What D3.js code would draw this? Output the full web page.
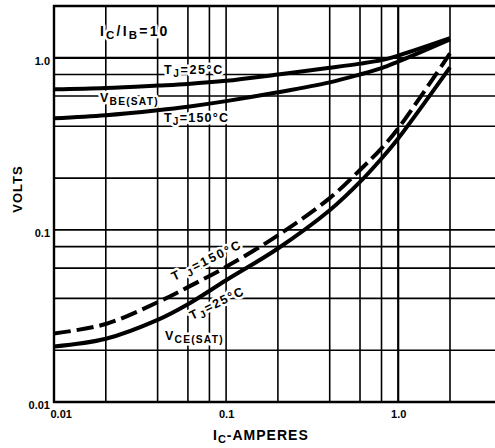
<!DOCTYPE html>
<html>
<head>
<meta charset="utf-8">
<script src="https://cdn.jsdelivr.net/npm/d3@7"></script>
<style>
  body { margin: 0; background: #fff; }
  svg { display: block; font-family: "Liberation Sans", Arial, sans-serif; }
</style>
</head>
<body>
<div id="viz_area"></div>
<script>
// collector current, amperes
var currentA = [0.01, 0.02, 0.04, 0.06, 0.1, 0.2, 0.4, 0.6, 0.8, 1.0, 2.0];

// saturation voltages, volts
var vbe25  = [0.656, 0.668, 0.69, 0.705, 0.735, 0.80, 0.875, 0.925, 0.97, 1.03, 1.30];
var vbe150 = [0.445, 0.464, 0.496, 0.52, 0.56, 0.63, 0.72, 0.80, 0.87, 0.95, 1.28];
var vce25  = [0.021, 0.0233, 0.030, 0.037, 0.051, 0.078, 0.13, 0.19, 0.26, 0.34, 0.88];
var vce150 = [0.025, 0.0284, 0.038, 0.0465, 0.061, 0.093, 0.153, 0.223, 0.298, 0.389, 1.06];

// grid + tick labels
var xGrid = [0.02, 0.04, 0.06, 0.08, 0.1, 0.2, 0.4, 0.6, 0.8, 1.0, 2.0];
var yGrid = [0.02, 0.04, 0.06, 0.08, 0.1, 0.2, 0.4, 0.6, 0.8, 1.0];
var xTickLabels = [0.01, 0.1, 1.0];
var yTickLabels = [0.01, 0.1, 1.0];
var tickText = {0.01: "0.01", 0.1: "0.1", 1: "1.0"};

function __init__() {
    var w = 495;
    var h = 448;
    var left = 54, top = 6, bottom = 402;
    var decade = (bottom - top) / Math.log10(2 / 0.01);

    var x = d3.scaleLog().domain([0.01, 4]).range([left, left + decade * Math.log10(400)]);
    var y = d3.scaleLog().domain([0.01, 2]).range([bottom, top]);
    var right = x(4);

    var svg = d3.select("#viz_area")
                .append("svg")
                .attr("width", w)
                .attr("height", h);

    // grid lines, decades a bit heavier
    svg.selectAll("line.vgrid")
        .data(xGrid)
        .enter()
        .append("line")
        .attr("class", "vgrid")
        .attr("x1", (d) => x(d)).attr("x2", (d) => x(d))
        .attr("y1", top).attr("y2", bottom)
        .style("stroke", "#000")
        .style("stroke-width", (d) => d == 1 ? 2.2 : 1.6);

    svg.selectAll("line.hgrid")
        .data(yGrid)
        .enter()
        .append("line")
        .attr("class", "hgrid")
        .attr("x1", left).attr("x2", right)
        .attr("y1", (d) => y(d)).attr("y2", (d) => y(d))
        .style("stroke", "#000")
        .style("stroke-width", (d) => d == 1 ? 2.2 : 1.6);

    // frame
    svg.append("path")
        .attr("d", "M" + right + "," + top + "H" + left + "V" + bottom + "H" + right)
        .style("fill", "none")
        .style("stroke", "#000")
        .style("stroke-width", 2.4);

    // axes (labels only)
    var yAxis = svg.append("g")
        .attr("transform", "translate(" + left + ",0)")
        .call(d3.axisLeft(y).tickValues(yTickLabels).tickSize(0).tickPadding(4)
                .tickFormat((d) => tickText[d]));
    var xAxis = svg.append("g")
        .attr("transform", "translate(0," + bottom + ")")
        .call(d3.axisBottom(x).tickValues(xTickLabels).tickSize(0).tickPadding(8)
                .tickFormat((d) => tickText[d]));
    [yAxis, xAxis].forEach(function(g) {
        g.select(".domain").remove();
        g.selectAll("text")
            .style("font-family", "Liberation Sans, Arial, sans-serif")
            .style("font-size", "11px")
            .style("font-weight", "bold")
            .style("fill", "#000");
    });
    yAxis.selectAll("text").attr("dy", "0.6em");
    // first x label sits to the right of the corner
    xAxis.selectAll("text").filter((d) => d == 0.01)
        .attr("text-anchor", "start").attr("x", -4);

    // axis titles
    svg.append("text")
        .attr("transform", "translate(22,189) rotate(-90)")
        .attr("text-anchor", "middle")
        .style("font-size", "13px").style("font-weight", "bold")
        .style("letter-spacing", "1px")
        .text("VOLTS");

    var xt = svg.append("text")
        .attr("x", 213).attr("y", 440)
        .style("font-size", "14px").style("font-weight", "bold")
        .style("letter-spacing", "1px");
    xt.append("tspan").text("I");
    xt.append("tspan").attr("dy", 3).style("font-size", "11px").text("C");
    xt.append("tspan").attr("dy", -3).text("-AMPERES");

    // annotations, white halo cuts the grid like the original
    function label(tx, ty, rot, size, spacing, parts) {
        var t = svg.append("text")
            .attr("transform", "translate(" + tx + "," + ty + ") rotate(" + rot + ")")
            .style("font-size", size + "px")
            .style("font-weight", "bold")
            .style("letter-spacing", spacing + "px")
            .style("paint-order", "stroke")
            .style("stroke", "#fff")
            .style("stroke-width", 5)
            .style("stroke-linejoin", "round");
        var off = 0;
        parts.forEach(function(p) {
            var shift = p.sub ? 3 : 0;
            t.append("tspan")
                .attr("dy", shift - off)
                .style("font-size", p.sub ? (size * 0.82) + "px" : null)
                .text(p.t);
            off = shift;
        });
    }

    label(100, 36, 0, 14, 2.2, [{t: "I"}, {t: "C", sub: 1}, {t: "/I"}, {t: "B", sub: 1}, {t: "=10"}]);
    label(164, 74, 0, 12.5, 1.6, [{t: "T"}, {t: "J", sub: 1}, {t: "=25°C"}]);
    label(100, 102, 0, 12.5, 1.2, [{t: "V"}, {t: "BE(SAT)", sub: 1}]);
    label(164, 122, 0, 12.5, 1.2, [{t: "T"}, {t: "J", sub: 1}, {t: "=150°C"}]);
    label(174, 281, -26, 12.5, 2, [{t: "T "}, {t: "J", sub: 1}, {t: "=150°C"}]);
    label(192, 320, -26, 12.5, 1.6, [{t: "T"}, {t: "J", sub: 1}, {t: "=25°C"}]);
    label(165, 340, 0, 12.5, 1.2, [{t: "V"}, {t: "CE(SAT)", sub: 1}]);

    // curves
    var line = d3.line()
        .x((d) => x(d[0]))
        .y((d) => y(d[1]))
        .curve(d3.curveCatmullRom.alpha(0.5));

    var series = [
        {v: vbe25, dash: null},
        {v: vbe150, dash: null},
        {v: vce25, dash: null},
        {v: vce150, dash: "17,6"}
    ];

    svg.selectAll("path.curve")
        .data(series)
        .enter()
        .append("path")
        .attr("class", "curve")
        .attr("d", (s) => line(currentA.map((c, i) => [c, s.v[i]])))
        .style("fill", "none")
        .style("stroke", "#000")
        .style("stroke-width", 4)
        .style("stroke-dasharray", (s) => s.dash);
}

window.onload = __init__;
</script>
</body>
</html>
